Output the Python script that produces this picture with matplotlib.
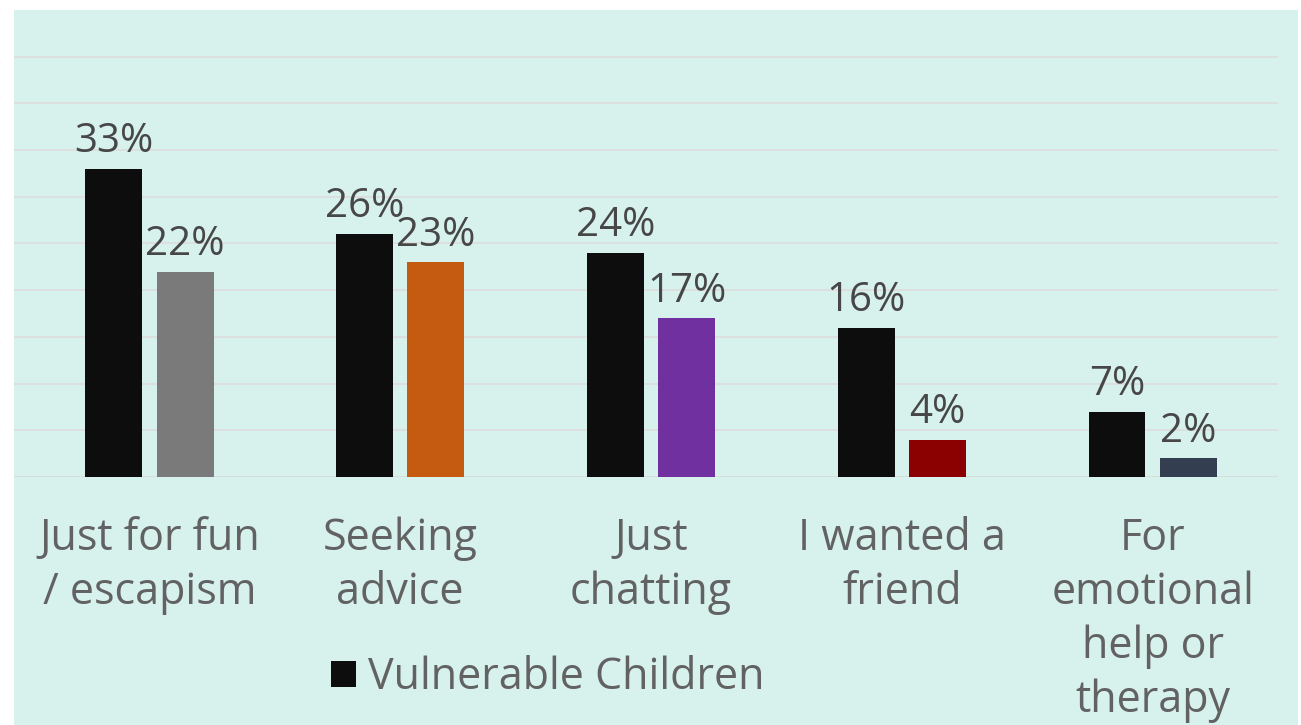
import matplotlib.pyplot as plt
import matplotlib.patches as mpatches
import numpy as np

plt.rcParams['font.family'] = ['Open Sans', 'DejaVu Sans']

# data
categories = ['Just for fun\n/ escapism', 'Seeking\nadvice', 'Just\nchatting',
              'I wanted a\nfriend', 'For\nemotional\nhelp or\ntherapy']
vulnerable = [33, 26, 24, 16, 7]
other = [22, 23, 17, 4, 2]
other_colors = ['#7a7a7a', '#c55a11', '#7030a0', '#8b0000', '#333f50']

W, H = 1301, 725
fig = plt.figure(figsize=(W / 100, H / 100), dpi=100)
fig.patch.set_facecolor('white')
# mint panel behind the axes
panel = mpatches.Rectangle((14 / W, 0), (1298 - 14) / W, 1 - 10 / H,
                           transform=fig.transFigure, facecolor='#d7f2ec',
                           edgecolor='none', zorder=-10)
fig.add_artist(panel)

ax = fig.add_axes([14 / W, 1 - 477 / H, (1278 - 14) / W, (477 - 10) / H])
ax.set_facecolor('none')

x = np.arange(len(categories))
bw = 0.227
off = 0.142
ax.bar(x - off, vulnerable, bw, color='#0d0d0d', label='Vulnerable Children', zorder=3)
ax.bar(x + off, other, bw, color=other_colors, zorder=3)

fs = 29
fs_cat = 31
for xi, v in zip(x, vulnerable):
    ax.annotate(f'{v}%', (xi - off, v), xytext=(0, 12), textcoords='offset points',
                ha='center', va='baseline', fontsize=fs, color='#474747', zorder=4)
for xi, v in zip(x, other):
    ax.annotate(f'{v}%', (xi + off, v), xytext=(0, 12), textcoords='offset points',
                ha='center', va='baseline', fontsize=fs, color='#474747', zorder=4)

ax.set_ylim(0, 50)
ax.set_xlim(-0.54, 4.5)
ax.set_yticks(np.arange(5, 50, 5))
ax.yaxis.grid(True, color='#dcdcdc', linewidth=1.2, zorder=0)
ax.axhline(0, color='#d9d9d9', linewidth=1.2, zorder=2)
ax.tick_params(axis='y', left=False, labelleft=False)
ax.tick_params(axis='x', bottom=False, pad=25)
ax.set_xticks(x)
ax.set_xticklabels(categories, fontsize=fs_cat, color='#626262', linespacing=1.28)
for s in ax.spines.values():
    s.set_visible(False)

leg = ax.legend(loc='center', bbox_to_anchor=(548 / W, 1 - 678 / H),
                bbox_transform=fig.transFigure, frameon=False,
                handlelength=0.57, handleheight=0.57, handletextpad=0.3,
                prop={'size': fs_cat})
for t in leg.get_texts():
    t.set_color('#626262')

fig.savefig('out.png', dpi=100, facecolor='white')
